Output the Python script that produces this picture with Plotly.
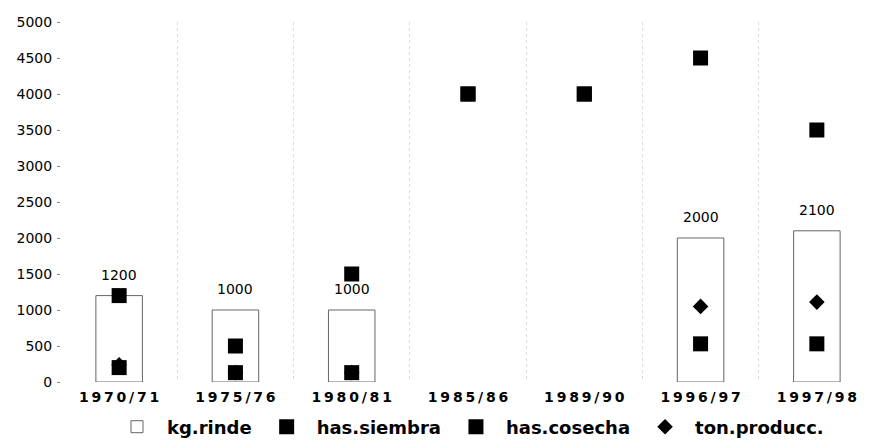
import plotly.graph_objects as go

campanas = ["1970/71", "1975/76", "1980/81", "1985/86", "1989/90", "1996/97", "1997/98"]
tick_text = ["1\u20099\u20097\u20090\u2009/\u20097\u20091", "1\u20099\u20097\u20095\u2009/\u20097\u20096",
             "1\u20099\u20098\u20090\u2009/\u20098\u20091", "1\u20099\u20098\u20095\u2009/\u20098\u20096",
             "1\u20099\u20098\u20099\u2009/\u20099\u20090", "1\u20099\u20099\u20096\u2009/\u20099\u20097",
             "1\u20099\u20099\u20097\u2009/\u20099\u20098"]
kg_rinde = [1200, 1000, 1000, None, None, 2000, 2100]
has_siembra = [1200, 500, 1500, 4000, 4000, 4500, 3500]
has_cosecha = [200, 130, 130, 4000, 4000, 530, 530]
ton_producc = [240, 130, 130, None, None, 1050, 1110]

FONT = "DejaVu Sans"

fig = go.Figure()
fig.add_trace(go.Bar(
    x=campanas, y=kg_rinde, name="kg.rinde",
    marker=dict(color="rgba(255,255,255,0)", line=dict(color="#666666", width=1)),
))
fig.add_trace(go.Scatter(
    x=campanas, y=has_siembra, name="has.siembra", mode="markers",
    marker=dict(symbol="square", size=15, color="black"),
))
fig.add_trace(go.Scatter(
    x=campanas, y=has_cosecha, name="has.cosecha", mode="markers",
    marker=dict(symbol="square", size=15, color="black"),
))
fig.add_trace(go.Scatter(
    x=campanas, y=ton_producc, name="ton.producc.", mode="markers",
    marker=dict(symbol="diamond", size=12, color="black"),
))

for c, v in zip(campanas, kg_rinde):
    if v is not None:
        fig.add_annotation(x=c, y=v, text=str(v), showarrow=False, yshift=21,
                           yanchor="middle", font=dict(family=FONT, size=14, color="black"))

fig.update_layout(
    width=870, height=434,
    margin=dict(l=53, r=3, t=14, b=60, autoexpand=False),
    paper_bgcolor="white", plot_bgcolor="white",
    bargap=0.6,
    showlegend=True,
    legend=dict(orientation="h", x=0.5, xanchor="center", y=-0.125, yanchor="middle",
                font=dict(family=FONT, size=18, color="black", weight="bold"),
                itemwidth=50, traceorder="normal"),
    font=dict(family=FONT, color="black"),
)
fig.update_xaxes(
    tickmode="array", tickvals=campanas, ticktext=tick_text,
    tickson="boundaries", showgrid=True, gridcolor="#dddddd", griddash="dot", gridwidth=1,
    showline=False, zeroline=False, ticks="", ticklabelstandoff=5,
    tickfont=dict(family=FONT, size=14, color="black", weight="bold"),
)
fig.update_yaxes(
    range=[0, 5000], dtick=500, showgrid=False, zeroline=False, showline=False,
    ticks="outside", ticklen=3, tickcolor="#888888", ticklabelstandoff=2,
    tickfont=dict(family=FONT, size=14, color="black"),
)

fig.write_html("out.html")
